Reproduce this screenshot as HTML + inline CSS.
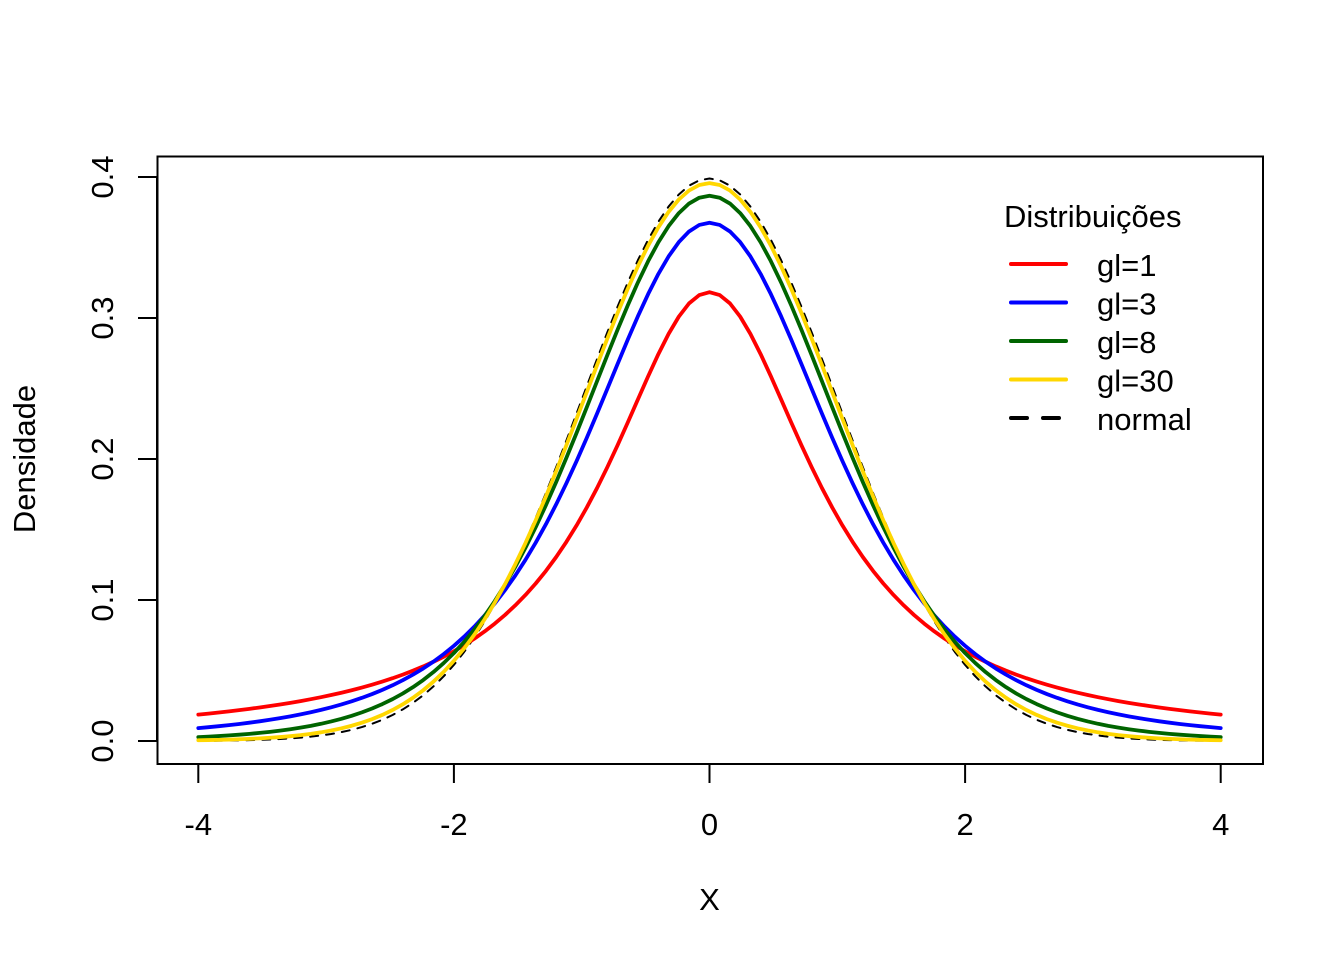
<!DOCTYPE html>
<html>
<head>
<meta charset="utf-8">
<style>
html,body{margin:0;padding:0;background:#fff;}
svg{display:block;}
text{font-family:"Liberation Sans",Arial,sans-serif;font-size:31px;fill:#000;}
</style>
</head>
<body>
<svg id="s" width="1344" height="960" viewBox="0 0 1344 960" xmlns="http://www.w3.org/2000/svg">
<rect x="0" y="0" width="1344" height="960" fill="#fff"/>
<g id="curves" fill="none" stroke-linejoin="round" stroke-linecap="round"></g>
<!-- box -->
<rect x="157.5" y="156.5" width="1105.5" height="607.5" fill="none" stroke="#000" stroke-width="2"/>
<!-- x ticks -->
<g stroke="#000" stroke-width="2">
<line x1="198.3" y1="764" x2="198.3" y2="783"/>
<line x1="453.9" y1="764" x2="453.9" y2="783"/>
<line x1="709.5" y1="764" x2="709.5" y2="783"/>
<line x1="965.1" y1="764" x2="965.1" y2="783"/>
<line x1="1220.7" y1="764" x2="1220.7" y2="783"/>
<line x1="198.3" y1="764" x2="1220.7" y2="764"/>
<!-- y ticks -->
<line x1="138" y1="741" x2="157" y2="741"/>
<line x1="138" y1="600" x2="157" y2="600"/>
<line x1="138" y1="459" x2="157" y2="459"/>
<line x1="138" y1="318" x2="157" y2="318"/>
<line x1="138" y1="177" x2="157" y2="177"/>
<line x1="157" y1="177" x2="157" y2="741"/>
</g>
<!-- x tick labels -->
<g text-anchor="middle">
<text x="198.3" y="835">-4</text>
<text x="453.9" y="835">-2</text>
<text x="709.5" y="835">0</text>
<text x="965.1" y="835">2</text>
<text x="1220.7" y="835">4</text>
<text x="709.5" y="910">X</text>
</g>
<!-- y tick labels -->
<g text-anchor="middle">
<text x="113" y="741" transform="rotate(-90 113 741)">0.0</text>
<text x="113" y="600" transform="rotate(-90 113 600)">0.1</text>
<text x="113" y="459" transform="rotate(-90 113 459)">0.2</text>
<text x="113" y="318" transform="rotate(-90 113 318)">0.3</text>
<text x="113" y="177" transform="rotate(-90 113 177)">0.4</text>
<text x="35" y="459" transform="rotate(-90 35 459)">Densidade</text>
</g>
<!-- legend -->
<text x="1004" y="227">Distribuições</text>
<g stroke-width="4" stroke-linecap="round">
<line x1="1011" y1="264" x2="1066" y2="264" stroke="#FF0000"/>
<line x1="1011" y1="302.5" x2="1066" y2="302.5" stroke="#0000FF"/>
<line x1="1011" y1="341" x2="1066" y2="341" stroke="#006400"/>
<line x1="1011" y1="379.5" x2="1066" y2="379.5" stroke="#FFD700"/>
<line x1="1011" y1="418" x2="1066" y2="418" stroke="#000" stroke-dasharray="16 16"/>
</g>
<text x="1097" y="276">gl=1</text>
<text x="1097" y="314.5">gl=3</text>
<text x="1097" y="353">gl=8</text>
<text x="1097" y="391.5">gl=30</text>
<text x="1097" y="430">normal</text>
</svg>
<script>
(function(){
  var NS="http://www.w3.org/2000/svg";
  var g=document.getElementById("curves");
  function px(x){return 709.5+127.8*x;}
  function py(y){return 741-1410*y;}
  function t(c,nu){return function(x){return c*Math.pow(1+x*x/nu,-(nu+1)/2);};}
  function nrm(x){return 0.3989423*Math.exp(-x*x/2);}
  var series=[
    [nrm,"#000",2,"8 8"],
    [t(0.3183099,1),"#FF0000",3.8,null],
    [t(0.3675526,3),"#0000FF",3.8,null],
    [t(0.3866990,8),"#006400",3.8,null],
    [t(0.3956322,30),"#FFD700",3.8,null]
  ];
  series.forEach(function(s){
    var d="";
    for(var i=0;i<=100;i++){
      var x=-4+0.08*i;
      d+=(i?"L":"M")+px(x).toFixed(2)+" "+py(s[0](x)).toFixed(2);
    }
    var p=document.createElementNS(NS,"path");
    p.setAttribute("d",d);
    p.setAttribute("stroke",s[1]);
    p.setAttribute("stroke-width",s[2]);
    if(s[3])p.setAttribute("stroke-dasharray",s[3]);
    g.appendChild(p);
  });
})();
</script>
</body>
</html>
